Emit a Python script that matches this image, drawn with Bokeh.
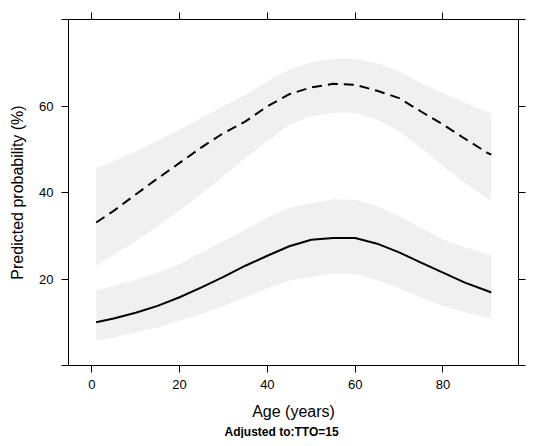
from bokeh.plotting import figure
from bokeh.models import LinearAxis, FixedTicker, Title, CustomLabelingPolicy
from bokeh.embed import file_html
from bokeh.resources import INLINE

age = [1, 5, 10, 15, 20, 25, 30, 35, 40, 45, 50, 55, 60, 65, 70, 75, 80, 85, 90, 91]

dash_fit = [33.1, 35.8, 39.6, 43.3, 46.9, 50.5, 53.8, 56.5, 60.0, 62.8, 64.4, 65.2, 65.0, 63.6, 61.9, 58.8, 55.8, 52.5, 49.3, 48.8]
dash_up = [45.8, 47.3, 49.6, 52.1, 54.6, 57.3, 60.0, 62.7, 65.8, 68.5, 70.2, 71.0, 71.0, 70.0, 68.1, 65.4, 63.1, 60.8, 58.7, 58.2]
dash_lo = [23.1, 25.6, 28.8, 32.3, 35.9, 39.8, 43.8, 48.1, 51.9, 55.8, 57.7, 58.5, 58.5, 56.9, 54.2, 50.4, 46.2, 42.3, 38.8, 38.0]

solid_fit = [10.0, 10.9, 12.2, 13.8, 15.8, 18.1, 20.5, 23.1, 25.4, 27.6, 29.1, 29.5, 29.5, 28.2, 26.2, 23.8, 21.5, 19.2, 17.3, 16.9]
solid_up = [17.3, 18.5, 19.8, 21.5, 23.5, 26.2, 28.8, 31.5, 34.2, 36.5, 37.5, 38.5, 38.3, 36.9, 34.6, 31.9, 29.2, 27.3, 25.8, 25.5]
solid_lo = [5.8, 6.5, 7.7, 8.8, 10.4, 11.9, 13.8, 15.8, 17.9, 19.7, 20.5, 21.3, 21.2, 19.8, 17.9, 15.8, 13.8, 12.3, 11.1, 11.0]

x_ticks = [0, 20, 40, 60, 80]
y_ticks = [0, 20, 40, 60, 80]

FONT = "Liberation Sans"

p = figure(width=542, height=438, x_range=(-5.3, 97.2), y_range=(0, 80.1),
           output_backend="svg", toolbar_location=None,
           min_border_left=68, min_border_right=10, min_border_top=18, min_border_bottom=73,
           x_axis_location=None, y_axis_location=None)
p.grid.visible = False
p.outline_line_color = "black"
p.background_fill_color = "white"
p.border_fill_color = "white"

band = "#f0f0f0"
p.varea(x=age, y1=dash_lo, y2=dash_up, fill_color=band)
p.varea(x=age, y1=solid_lo, y2=solid_up, fill_color=band)
p.line(age, dash_fit, line_color="black", line_width=2, line_dash="10 6")
p.line(age, solid_fit, line_color="black", line_width=2)

hide_all = CustomLabelingPolicy(code="""
for (const i of indices) indices.unset(i)
return indices
""")
hide_ends = CustomLabelingPolicy(code="""
const n = indices.size
for (const i of indices) { if (i == 0 || i == n - 1) indices.unset(i) }
return indices
""")

def style(ax):
    ax.axis_line_color = "black"
    ax.major_tick_line_color = "black"
    ax.minor_tick_line_color = None
    ax.major_tick_out = 7
    ax.major_tick_in = 0
    ax.major_label_text_font = FONT
    ax.major_label_text_color = "black"
    ax.major_label_text_font_size = "13px"

bx = LinearAxis(ticker=FixedTicker(ticks=x_ticks))
style(bx)
bx.major_label_standoff = 7
bx.axis_label = "Age (years)"
bx.axis_label_text_font = FONT
bx.axis_label_text_font_style = "normal"
bx.axis_label_text_font_size = "16px"
bx.axis_label_text_color = "black"
bx.axis_label_standoff = 11
p.add_layout(bx, "below")

tx = LinearAxis(ticker=FixedTicker(ticks=x_ticks), major_label_policy=hide_all)
style(tx)
tx.major_label_standoff = 0
p.add_layout(tx, "above")

ly = LinearAxis(ticker=FixedTicker(ticks=y_ticks), major_label_policy=hide_ends)
style(ly)
ly.major_label_standoff = 8
ly.axis_label = "Predicted probability (%)"
ly.axis_label_text_font = FONT
ly.axis_label_text_font_style = "normal"
ly.axis_label_text_font_size = "16px"
ly.axis_label_text_color = "black"
ly.axis_label_standoff = 10
p.add_layout(ly, "left")

ry = LinearAxis(ticker=FixedTicker(ticks=y_ticks), major_label_policy=hide_all)
style(ry)
ry.major_label_standoff = 0
p.add_layout(ry, "right")

note = Title(text="Adjusted to:TTO=15", align="left", offset=156, standoff=0,
             text_font=FONT, text_font_style="bold", text_font_size="12px",
             text_color="black")
p.add_layout(note, "below")

open("out.html", "w").write(file_html(p, INLINE))
